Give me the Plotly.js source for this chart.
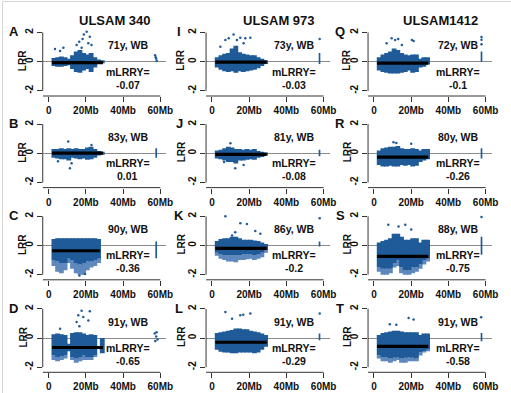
<!DOCTYPE html>
<html>
<head>
<meta charset="utf-8">
<script src="https://cdn.plot.ly/plotly-3.0.1.min.js"></script>
<style>html,body{margin:0;padding:0;background:#fff;}#chart{width:511px;height:393px;}</style>
</head>
<body>
<div id="chart"></div>
<script>
// ---------------- DATA ----------------
const columnTitles = ["ULSAM 340", "ULSAM 973", "ULSAM1412"];
const panelLetters = ["A","B","C","D","I","J","K","L","Q","R","S","T"];
const panelAges = ["71y, WB","83y, WB","90y, WB","91y, WB","73y, WB","81y, WB","86y, WB","91y, WB","72y, WB","80y, WB","88y, WB","91y, WB"];
const mLRRY = [-0.07, 0.01, -0.36, -0.65, -0.03, -0.08, -0.2, -0.29, -0.1, -0.26, -0.75, -0.58];
const xTickVals = [0, 20, 40, 60];
const xTickText = ["0", "20Mb", "40Mb", "60Mb"];
const yTickVals = [-2, 0, 2];
const yTickText = ["-2", "0", "2"];

// position of 2-Mb bins along chrY (Mb)
const binCenters = [2.8, 4.8, 6.8, 8.8, 10.8, 12.8, 14.8, 16.8, 18.8, 20.8, 22.8, 24.8, 26.8, 28.8];
const meanStart = [1.8,1.8,1.8,1.8,1.8,1.8,1.8,1.8,1.6,1.6,1.6,1.6];
const meanEnd   = [29.2,29.2,27.5,29.2,29.4,29.4,29.4,29.4,29.2,29.2,29.2,29.2];

// upper / lower envelope of dense LRR cloud per bin
const A_hi = [0.25,0.3,0.35,0.3,0.2,0.45,0.7,0.8,0.6,0.5,0.6,0.3,0.15,0.1];
const A_lo = [-0.3,-0.35,-0.35,-0.3,-0.25,-0.5,-0.7,-0.75,-0.6,-0.5,-0.7,-0.4,-0.15,-0.1];
const B_hi = [0.3,0.3,0.35,0.3,0.35,0.3,0.35,0.3,0.3,0.4,0.45,0.3,0.15,0.1];
const B_lo = [-0.3,-0.35,-0.4,-0.4,-0.5,-0.3,-0.35,-0.4,-0.35,-0.45,-0.4,-0.3,-0.15,-0.1];
const C_hi = [0.45,0.5,0.5,0.5,0.5,0.5,0.5,0.5,0.5,0.5,0.5,0.5,0.45,-0.36];
const C_lo = [-1.0,-1.1,-1.2,-1.2,-0.9,-1.0,-1.2,-1.3,-1.2,-1.1,-1.1,-1.0,-0.9,-0.36];
const C_tail = [-1.4,-1.8,-1.9,-1.7,-1.2,-1.6,-1.9,-2.0,-2.0,-1.7,-1.5,-1.4,-1.2,-0.36];
const D_hi = [0.25,0.3,0.25,0.2,-0.4,0.35,0.4,0.4,0.3,0.2,0.25,0.2,-0.65,0.0];
const D_lo = [-1.2,-1.3,-1.25,-1.2,-0.9,-1.3,-1.4,-1.3,-1.2,-1.3,-1.3,-1.2,-0.65,-1.05];
const D_tail = [-1.5,-1.6,-1.5,-1.4,-0.9,-1.5,-1.7,-1.6,-1.5,-1.5,-1.5,-1.3,-0.65,-1.05];
const I_hi = [0.3,0.45,0.55,0.6,0.9,1.1,0.65,0.55,0.5,0.45,0.45,0.3,0.2,0.1];
const I_lo = [-0.4,-0.55,-0.65,-0.7,-0.65,-0.75,-0.65,-0.7,-0.65,-0.6,-0.55,-0.45,-0.3,-0.15];
const J_hi = [0.2,0.25,0.35,0.45,0.4,0.3,0.3,0.25,0.3,0.25,0.3,0.15,0.1,0.05];
const J_lo = [-0.35,-0.4,-0.5,-0.6,-0.6,-0.7,-0.5,-0.5,-0.45,-0.4,-0.45,-0.3,-0.25,-0.15];
const K_hi = [0.3,0.45,0.5,0.5,0.6,0.6,0.5,0.4,0.4,0.4,0.35,0.3,0.2,0.1];
const K_lo = [-0.5,-0.6,-0.65,-0.65,-0.65,-0.65,-0.65,-0.6,-0.6,-0.6,-0.65,-0.6,-0.5,-0.35];
const K_tail = [-0.7,-0.9,-1.0,-1.1,-1.1,-1.15,-1.0,-1.0,-0.95,-0.9,-1.0,-0.9,-0.8,-0.5];
const L_hi = [0.35,0.4,0.45,0.5,0.55,0.65,0.65,0.6,0.6,0.5,0.45,0.4,0.3,0.2];
const L_lo = [-0.8,-0.95,-1.0,-1.0,-1.05,-1.05,-1.0,-1.0,-1.0,-1.0,-1.05,-1.0,-0.8,-0.6];
const Q_hi = [0.3,0.5,0.6,0.7,0.9,0.8,0.6,0.5,0.45,0.5,0.5,0.2,0.3,0.3];
const Q_lo = [-0.6,-0.7,-0.75,-0.8,-0.8,-0.8,-0.75,-0.7,-0.6,-0.75,-0.7,-0.4,-0.35,-0.2];
const R_hi = [0.2,0.35,0.4,0.45,0.45,0.5,0.35,0.3,0.3,0.35,0.3,0.2,0.3,0.3];
const R_lo = [-0.8,-0.9,-0.9,-0.85,-0.9,-0.9,-0.8,-0.85,-0.8,-0.9,-0.85,-0.6,-0.5,-0.4];
const S_hi = [0.2,0.3,0.4,0.5,0.8,0.8,0.6,0.4,0.4,0.5,0.5,0.2,0.4,0.4];
const S_lo = [-1.5,-1.6,-1.6,-1.6,-1.2,-1.0,-1.5,-1.7,-1.7,-1.5,-1.5,-1.3,-1.0,-0.9];
const S_tail = [-1.8,-2.0,-2.0,-1.9,-1.5,-1.4,-1.9,-2.0,-2.0,-1.9,-1.8,-1.6,-1.3,-1.1];
const T_hi = [0.2,0.35,0.4,0.45,0.5,0.5,0.45,0.4,0.4,0.4,0.4,0.2,0.3,0.3];
const T_lo = [-1.2,-1.3,-1.3,-1.4,-1.35,-1.3,-1.4,-1.35,-1.3,-1.35,-1.4,-1.0,-0.9,-0.8];
const T_tail = [-1.4,-1.6,-1.6,-1.7,-1.6,-1.5,-1.7,-1.7,-1.6,-1.6,-1.6,-1.2,-1.0,-0.9];

// sparse outlying probes (Mb, LRR)
const A_outX = [3.4,6.1,7.9,15.0,16.4,17.7,18.2,18.9,20.4,21.3,22.1,23.0];
const A_outY = [0.87,0.73,0.96,1.14,1.37,0.96,1.55,1.87,2.05,1.26,1.71,1.14];
const B_outX = [10.5,11.4,12.3,23.0,5.0];
const B_outY = [0.8,-1.03,-0.68,0.57,-0.55];
const C_outX = [16.5,19.5];
const C_outY = [-2.05,-1.95];
const D_outX = [6.1,15.9,17.7,18.6,22.1,15.0,21.3,16.5];
const D_outY = [0.64,1.55,1.87,1.44,1.83,1.1,1.2,0.8];
const I_outX = [4.5,7.2,9.0,11.6,13.4,15.2,17.0,17.9,20.6];
const I_outY = [1.03,1.48,1.6,1.87,1.48,1.64,1.26,1.6,1.64];
const J_outX = [12.5,9.9,17.0,6.5];
const J_outY = [-1.03,0.68,-0.8,-0.6];
const K_outX = [7.2,15.2,18.8,10.8,26.0,23.3,12.5];
const K_outY = [2.0,1.53,1.48,0.68,0.8,1.0,0.9];
const L_outX = [7.2,15.2,16.8,20.6,10.8];
const L_outY = [1.78,1.55,1.6,1.67,1.32];
const Q_outX = [9.5,11.4,13.0,20.4,21.3,6.8,15.0];
const Q_outY = [1.6,1.48,1.55,1.48,1.42,1.26,1.14];
const R_outX = [10.5,12.0,20.0];
const R_outY = [0.75,0.7,0.65];
const S_outX = [7.7,13.2,16.8,20.0];
const S_outY = [1.42,1.3,1.42,1.1];
const T_outX = [18.6,21.3,12.0,8.5];
const T_outY = [1.37,1.26,0.9,0.95];

// PAR2 probes (~57-59 Mb)
const parPos = 57.8;
const parLo = [0.0,-0.3,-0.87,0.0,-0.15,-0.2,-0.07,-0.15,0.0,-0.35,-0.64,-0.22];
const parHi = [0.0,0.35,0.27,0.0,0.6,0.25,0.27,0.3,0.7,0.35,0.6,0.35];
const A_parX = [57.2,57.5,57.8,58.1]; const A_parY = [0.45,0.3,0.2,0.05];
const D_parX = [57.0,57.8,58.5,58.0,57.3]; const D_parY = [0.3,0.1,-0.1,0.4,-0.2];
const I_parX = [57.9]; const I_parY = [1.55];
const K_parX = [57.9]; const K_parY = [1.87];
const L_parX = [57.9]; const L_parY = [1.67];
const Q_parX = [57.8,57.8,57.8]; const Q_parY = [1.2,1.5,1.7];
const S_parX = [57.8]; const S_parY = [1.96];
const T_parX = [57.6]; const T_parY = [1.42];

// ---------------- BUILD ----------------
const hiList = [A_hi,B_hi,C_hi,D_hi,I_hi,J_hi,K_hi,L_hi,Q_hi,R_hi,S_hi,T_hi];
const loList = [A_lo,B_lo,C_lo,D_lo,I_lo,J_lo,K_lo,L_lo,Q_lo,R_lo,S_lo,T_lo];
const tailList = [null,null,C_tail,D_tail,null,null,K_tail,null,null,null,S_tail,T_tail];
const outXList = [A_outX,B_outX,C_outX,D_outX,I_outX,J_outX,K_outX,L_outX,Q_outX,R_outX,S_outX,T_outX];
const outYList = [A_outY,B_outY,C_outY,D_outY,I_outY,J_outY,K_outY,L_outY,Q_outY,R_outY,S_outY,T_outY];
const parXList = [A_parX,[],[],D_parX,I_parX,[],K_parX,L_parX,Q_parX,[],S_parX,T_parX];
const parYList = [A_parY,[],[],D_parY,I_parY,[],K_parY,L_parY,Q_parY,[],S_parY,T_parY];

const W = 511, H = 393;
const colZero = [48.7, 212, 374];
const rowZero = [61.7, 153.3, 245.5, 338];
const colText = [42.5, 44, 45];
const colLRR = [22.5, 181, 347];
const colLetter = [13.5, 179, 340];
const titleX = [115, 278.5, 440];
const pxMb = 1.86, pxU = 14.6;
const xr = [-3.2, 63.2], yr = [-2.35, 2.1];
const BLUE = '#1f5a99';
const BLUE_LIGHT = '#5f88bd';
const FONT = 'Liberation Sans, Arial, sans-serif';
const BARW = 2.6;

const traces = [];
const layout = {
  width: W, height: H, margin: {l:0, r:0, t:0, b:0},
  paper_bgcolor: '#ffffff', plot_bgcolor: 'rgba(0,0,0,0)',
  showlegend: false, barmode: 'overlay',
  annotations: [], shapes: []
};

for (let p = 0; p < 12; p++) {
  const col = Math.floor(p / 4), row = p % 4;
  const id = p + 1;
  const xa = 'x' + id, ya = 'y' + id;
  const cz = colZero[col], rz = rowZero[row];
  const xd = [(cz + xr[0]*pxMb)/W, (cz + xr[1]*pxMb)/W];
  const yd = [1 - (rz - yr[0]*pxU)/H, 1 - (rz - yr[1]*pxU)/H];
  const tickfont = {family: FONT, size: 10, color: '#111', weight: 'bold'};
  layout['xaxis' + id] = {
    domain: xd, range: xr, anchor: ya, tickvals: xTickVals, ticktext: xTickText,
    ticks: 'outside', ticklen: 5, tickwidth: 1, tickcolor: '#333',
    showgrid: false, zeroline: false, showline: false, tickfont: tickfont, fixedrange: true
  };
  layout['yaxis' + id] = {
    domain: yd, range: yr, anchor: xa, tickvals: yTickVals, ticktext: yTickText,
    tickangle: -90, ticks: 'outside', ticklen: 5, tickwidth: 1, tickcolor: '#333',
    showgrid: false, zeroline: true, zerolinecolor: '#8c8c8c', zerolinewidth: 1,
    showline: false, tickfont: tickfont, fixedrange: true
  };
  // axis lines
  layout.shapes.push({type:'line', xref: xa + ' domain', yref: ya, x0:0, x1:0, y0:-2, y1:2,
    line:{color:'#333', width:1}});
  layout.shapes.push({type:'line', xref: xa, yref: ya + ' domain', x0: xr[0], x1: 60, y0:0, y1:0,
    line:{color:'#333', width:1}});

  const hi = hiList[p], lo = loList[p], tail = tailList[p];
  if (tail) {
    traces.push({type:'bar', xaxis: xa, yaxis: ya, x: binCenters, base: tail,
      y: lo.map((v,i) => v - tail[i]), width: BARW, marker:{color: BLUE_LIGHT, line:{width:0}},
      hoverinfo:'skip'});
  }
  traces.push({type:'bar', xaxis: xa, yaxis: ya, x: binCenters, base: lo,
    y: hi.map((v,i) => v - lo[i]), width: BARW, marker:{color: BLUE, line:{width:0}},
    hoverinfo:'skip'});
  traces.push({type:'bar', xaxis: xa, yaxis: ya, x: [parPos], base: [parLo[p]],
    y: [parHi[p] - parLo[p]], width: 0.9, marker:{color: BLUE, line:{width:0}}, hoverinfo:'skip'});
  traces.push({type:'scatter', mode:'markers', xaxis: xa, yaxis: ya,
    x: outXList[p].concat(parXList[p]), y: outYList[p].concat(parYList[p]),
    marker:{color: BLUE, size: 2.5, line:{width:0}}, hoverinfo:'skip', cliponaxis:false});
  traces.push({type:'scatter', mode:'lines', xaxis: xa, yaxis: ya,
    x: [meanStart[p], meanEnd[p]], y: [mLRRY[p], mLRRY[p]],
    line:{color:'#000', width:3.2}, hoverinfo:'skip'});

  const tf = {family: FONT, size: 10.5, color: '#111', weight: 'bold'};
  layout.annotations.push({xref: xa, yref: ya, x: colText[col], y: 1.13, text: panelAges[p],
    showarrow:false, font: tf, xanchor:'center', yanchor:'middle'});
  layout.annotations.push({xref: xa, yref: ya, x: colText[col], y: -0.68, text: 'mLRRY=',
    showarrow:false, font: tf, xanchor:'center', yanchor:'middle'});
  layout.annotations.push({xref: xa, yref: ya, x: colText[col], y: -1.57, text: String(mLRRY[p]),
    showarrow:false, font: tf, xanchor:'center', yanchor:'middle'});
  // LRR label
  layout.annotations.push({xref:'paper', yref:'paper', x: colLRR[col]/W, y: 1 - (rz - 1)/H,
    text:'LRR', textangle: -90, showarrow:false, xanchor:'center', yanchor:'middle',
    font:{family: FONT, size: 10, color:'#111', weight:'bold'}});
  // panel letter
  layout.annotations.push({xref:'paper', yref:'paper', x: colLetter[col]/W, y: 1 - (rz - 30)/H,
    text: panelLetters[p], showarrow:false, xanchor:'center', yanchor:'middle',
    font:{family: FONT, size: 13, color:'#111', weight:'bold'}});
}
for (let c = 0; c < 3; c++) {
  layout.annotations.push({xref:'paper', yref:'paper', x: titleX[c]/W, y: 1 - 21/H,
    text: columnTitles[c], showarrow:false, xanchor:'center', yanchor:'middle',
    font:{family: FONT, size: 13, color:'#111', weight:'bold'}});
}
// image frame (top and left)
layout.shapes.push({type:'line', xref:'paper', yref:'paper', x0: 2.5/W, x1: 1, y0: 1 - 1.5/H, y1: 1 - 1.5/H,
  line:{color:'#d6d6d6', width:1}});
layout.shapes.push({type:'line', xref:'paper', yref:'paper', x0: 2.5/W, x1: 2.5/W, y0: 0, y1: 1 - 1.5/H,
  line:{color:'#d6d6d6', width:1}});

Plotly.newPlot('chart', traces, layout, {displayModeBar: false, staticPlot: true});
</script>
</body>
</html>
